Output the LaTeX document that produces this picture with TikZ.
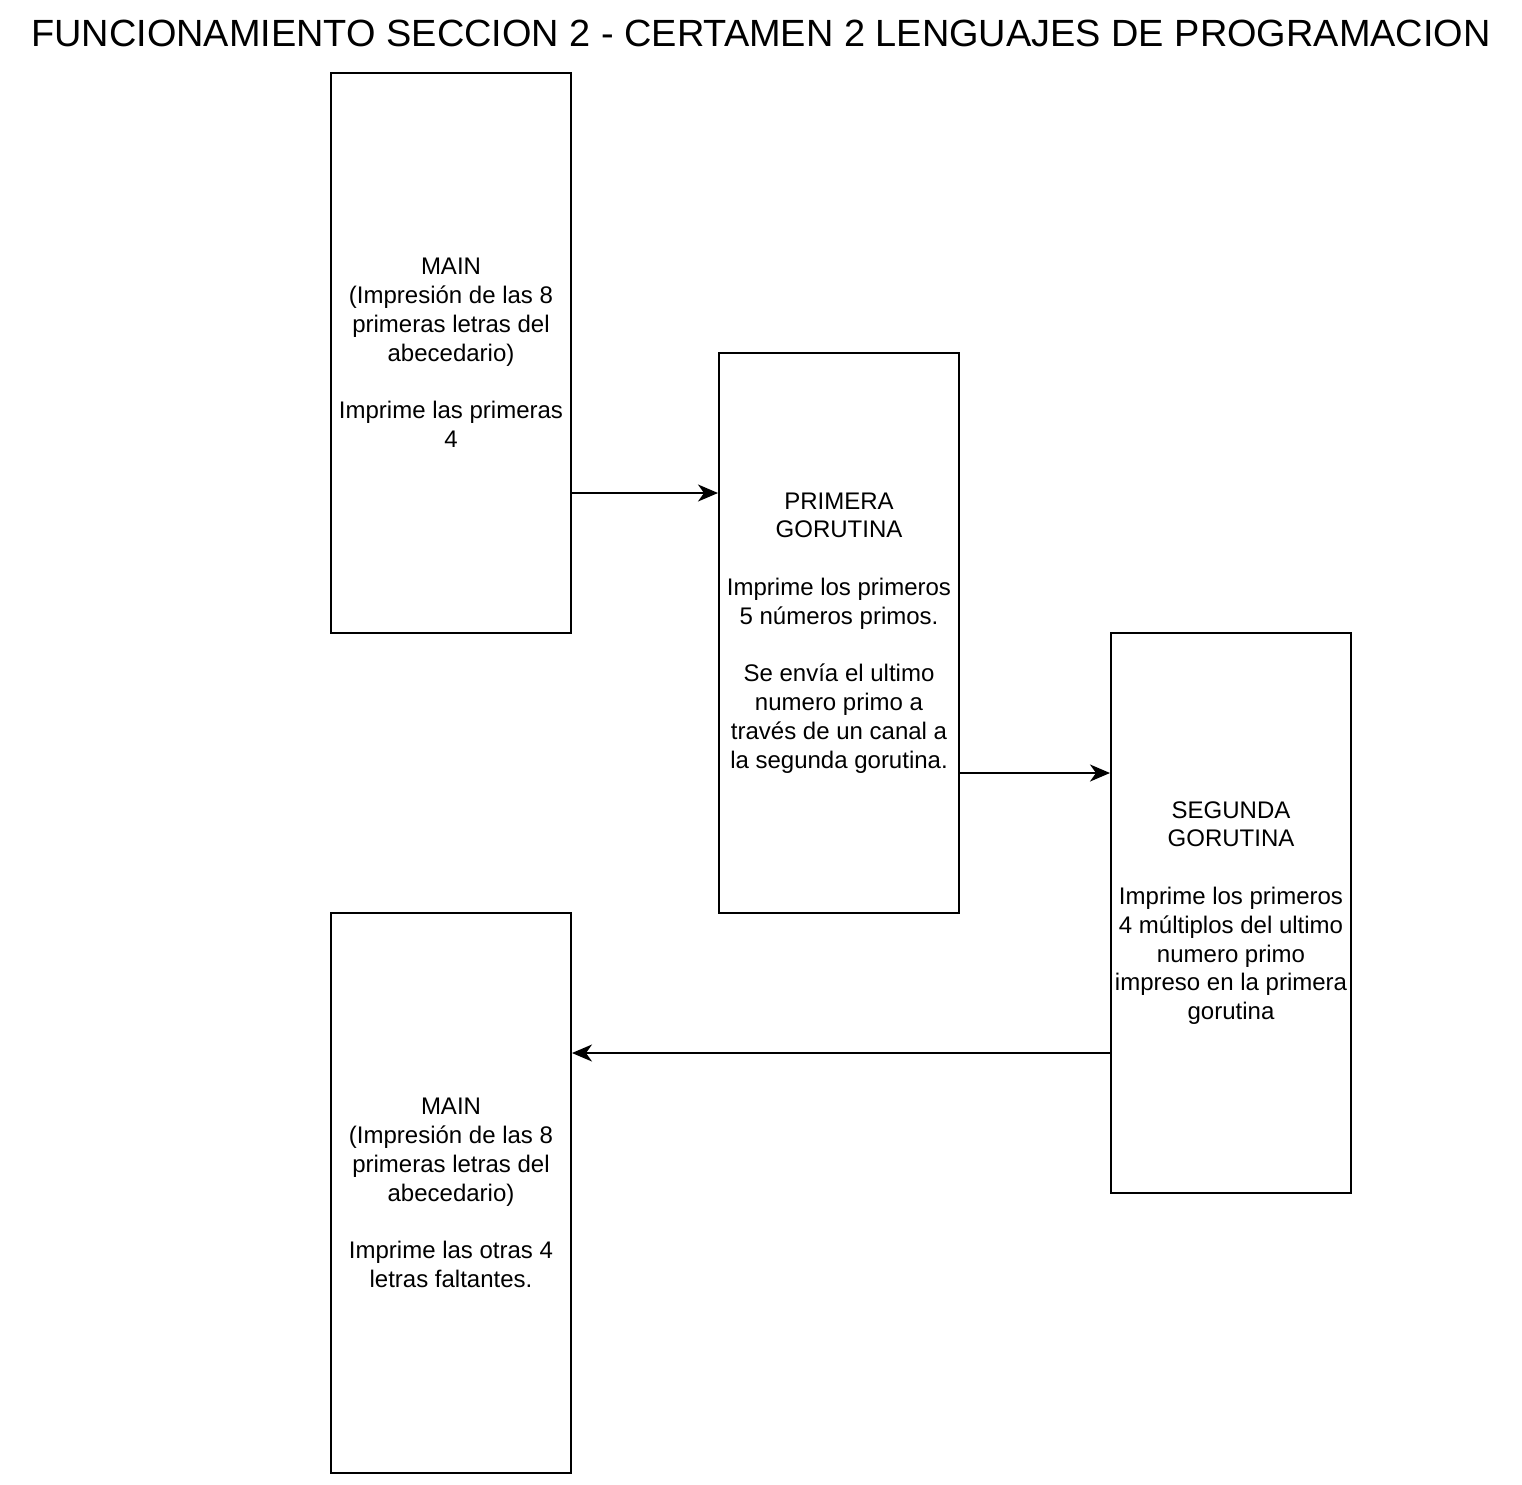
\documentclass[tikz,border=0pt]{standalone}
\usepackage{fontspec}
\setmainfont{Liberation Sans}
\usetikzlibrary{arrows.meta}

\tikzset{
  caja/.style={draw, line width=2pt, minimum width=240pt, minimum height=560pt,
    align=center, inner sep=0pt, font=\fontsize{24}{28.8}\selectfont},
  flecha/.style={line width=2pt, -{Stealth[length=20pt,width=17pt,inset=6pt]}}
}

\begin{document}
\begin{tikzpicture}[x=1pt,y=-1pt]
      \useasboundingbox (0,0) rectangle (1522,1484);
      \node (titulo) at (761,33) {\fontsize{37.9}{42}\selectfont FUNCIONAMIENTO SECCION 2 - CERTAMEN 2 LENGUAJES DE PROGRAMACION};

      \node[caja] (main1) at (451,353) {MAIN\\(Impresión de las 8\\primeras letras del\\abecedario)\\[28.8pt]Imprime las primeras\\4};
      \node[caja] (primera) at (839,633) {PRIMERA\\GORUTINA\\[28.8pt]Imprime los primeros\\5 números primos.\\[28.8pt]Se envía el ultimo\\numero primo a\\través de un canal a\\la segunda gorutina.};
      \node[caja] (segunda) at (1231,913) {SEGUNDA\\GORUTINA\\[28.8pt]Imprime los primeros\\4 múltiplos del ultimo\\numero primo\\impreso en la primera\\gorutina};
      \node[caja] (main2) at (451,1193) {MAIN\\(Impresión de las 8\\primeras letras del\\abecedario)\\[28.8pt]Imprime las otras 4\\letras faltantes.};

      \draw[flecha] ([yshift=-140pt]main1.east) to ([yshift=-140pt]main1.east -| primera.west);
      \draw[flecha] ([yshift=-140pt]primera.east) to ([yshift=-140pt]primera.east -| segunda.west);
      \draw[flecha] ([yshift=-140pt]segunda.west) to ([yshift=-140pt]segunda.west -| main2.east);
    \end{tikzpicture}
\end{document}
